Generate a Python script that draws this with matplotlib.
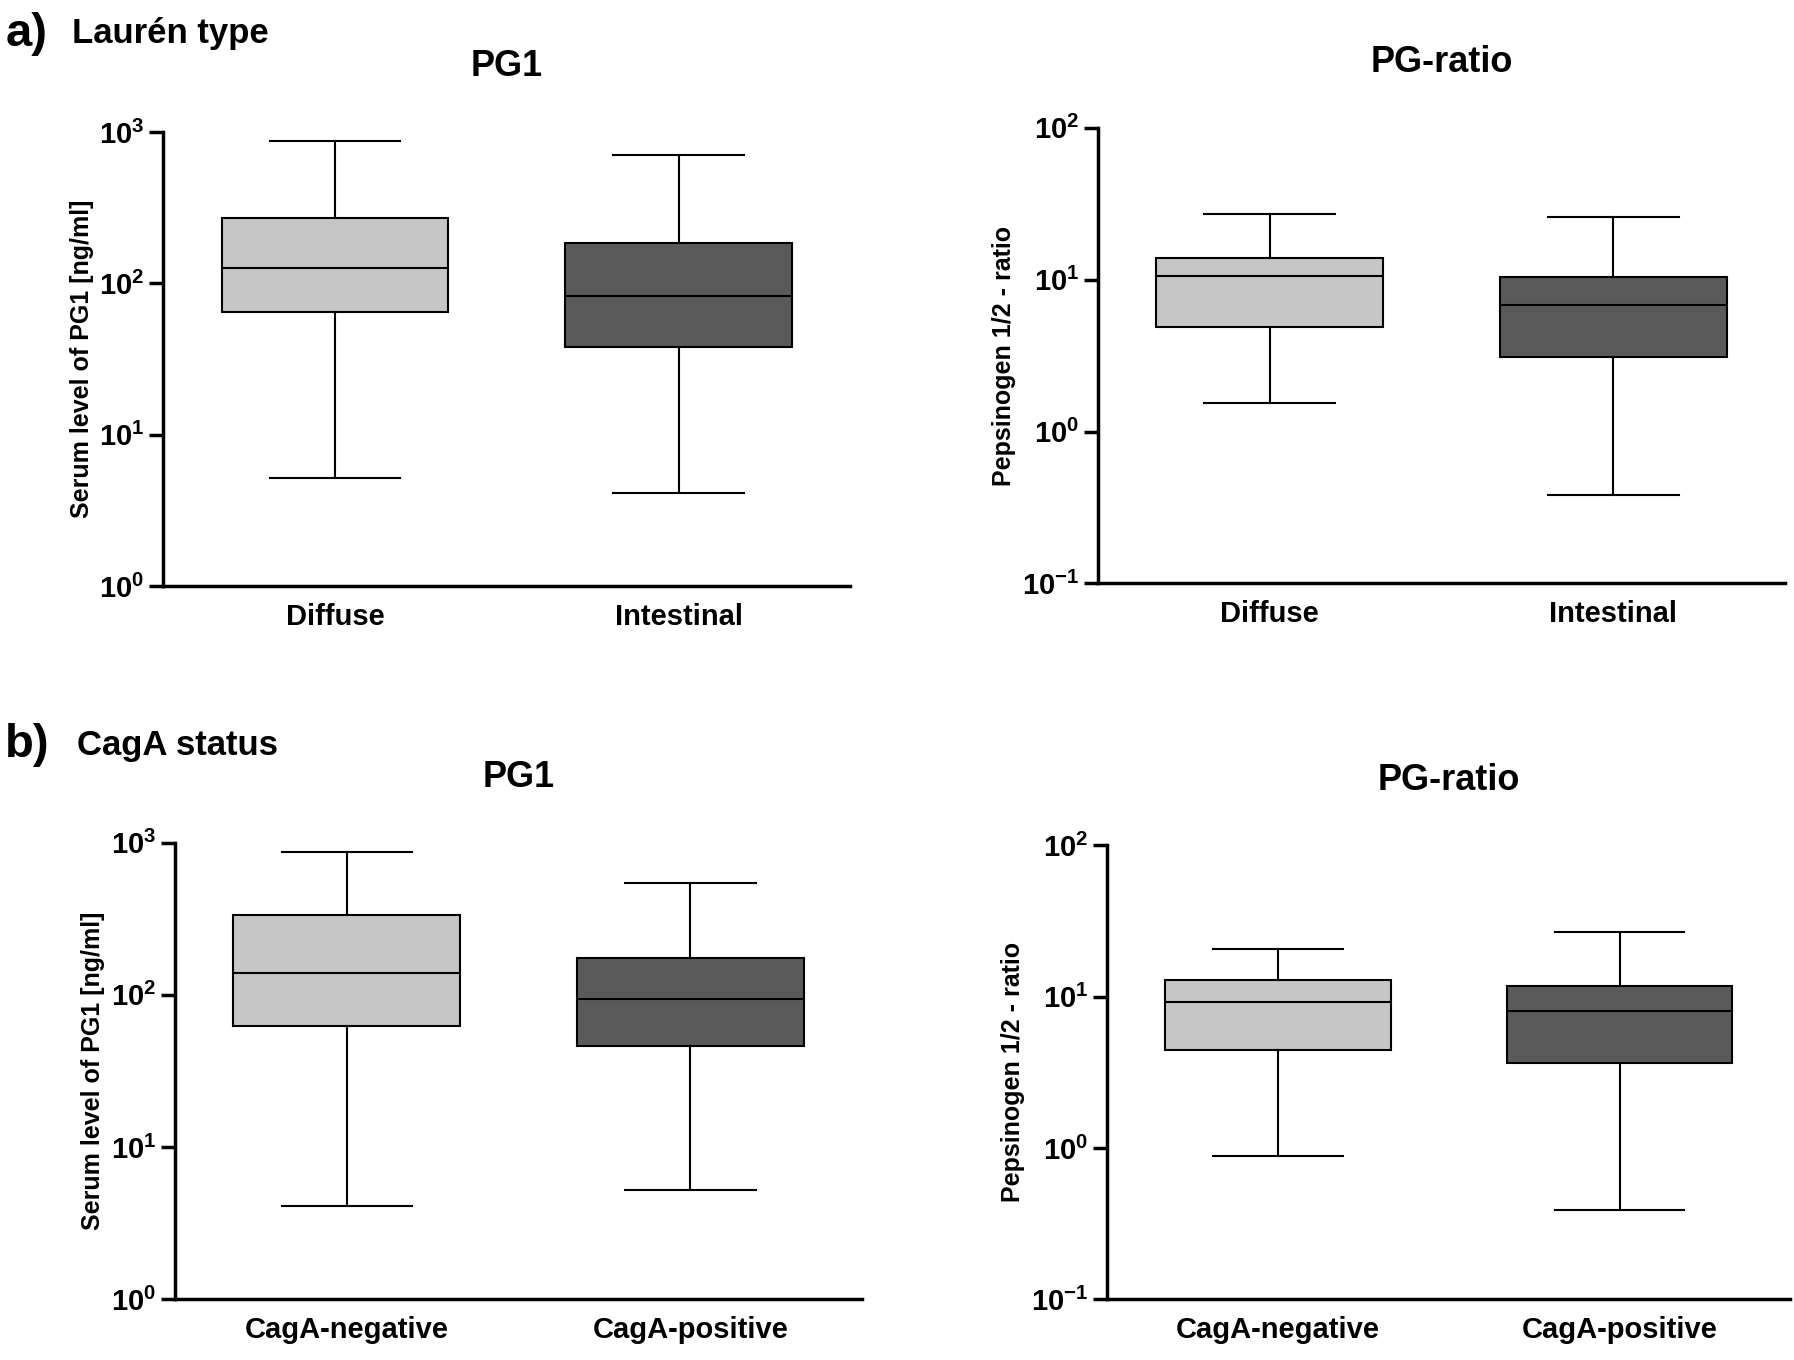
import matplotlib
matplotlib.use("Agg")
import matplotlib.pyplot as plt
from matplotlib.ticker import FixedLocator, NullLocator

plt.rcParams['font.family'] = ['Liberation Sans', 'DejaVu Sans']
plt.rcParams['mathtext.fontset'] = 'custom'
plt.rcParams['mathtext.rm'] = 'Liberation Sans:bold'
plt.rcParams['mathtext.it'] = 'Liberation Sans:bold'
plt.rcParams['mathtext.bf'] = 'Liberation Sans:bold'

# whislo, q1, median, q3, whishi
lauren_groups = ["Diffuse", "Intestinal"]
lauren_pg1 = [[5.2, 65, 126, 270, 870], [4.1, 38, 82, 185, 705]]
lauren_ratio = [[1.55, 4.9, 10.5, 13.9, 27], [0.385, 3.1, 6.8, 10.4, 26]]
caga_groups = ["CagA-negative", "CagA-positive"]
caga_pg1 = [[4.1, 62, 140, 336, 870], [5.2, 46, 94, 175, 540]]
caga_ratio = [[0.88, 4.45, 9.2, 12.8, 20.5], [0.39, 3.67, 8.0, 11.8, 26.7]]
colors = ["#c6c6c6", "#5a5a5a"]

fig = plt.figure(figsize=(17.94, 13.6), dpi=100)


def panel(rect, groups, data, title, ylabel, ylim, ticks):
    ax = fig.add_axes(rect)
    stats = []
    for g, d in zip(groups, data):
        stats.append(dict(label=g, whislo=d[0], q1=d[1], med=d[2], q3=d[3], whishi=d[4], fliers=[]))
    bp = ax.bxp(stats, positions=[1, 2], widths=0.66, patch_artist=True, showfliers=False,
                boxprops=dict(linewidth=1.5, edgecolor='black'),
                medianprops=dict(color='black', linewidth=1.5),
                whiskerprops=dict(linewidth=1.5), capprops=dict(linewidth=1.5))
    for patch, c in zip(bp['boxes'], colors):
        patch.set_facecolor(c)
    for cap in bp['caps']:
        x = cap.get_xdata()
        m = x.mean()
        cap.set_xdata([m - 0.19, m + 0.19])
    ax.set_yscale('log')
    ax.set_ylim(*ylim)
    ax.set_xlim(0.5, 2.5)
    ax.yaxis.set_major_locator(FixedLocator(ticks))
    ax.yaxis.set_minor_locator(NullLocator())
    ax.set_yticklabels([r'$\mathbf{10^{%d}}$' % round(__import__('math').log10(t)) for t in ticks])
    for s in ['top', 'right']:
        ax.spines[s].set_visible(False)
    for s in ['left', 'bottom']:
        ax.spines[s].set_linewidth(2.5)
    ax.tick_params(axis='both', width=2.5, length=10, labelsize=21)
    ax.tick_params(axis='x', length=0, pad=12)
    for lbl in ax.get_xticklabels():
        lbl.set_fontweight('bold')
    ax.set_title(title, fontsize=26, fontweight='bold', pad=40)
    ax.set_ylabel(ylabel, fontsize=18, fontweight='bold')
    return ax


panel([0.091, 0.569, 0.383, 0.334], lauren_groups, lauren_pg1, "PG1",
      "Serum level of PG1 [ng/ml]", (1, 1000), [1, 10, 100, 1000])
panel([0.612, 0.571, 0.383, 0.335], lauren_groups, lauren_ratio, "PG-ratio",
      "Pepsinogen 1/2 - ratio", (0.1, 100), [0.1, 1, 10, 100])
panel([0.0976, 0.0445, 0.383, 0.336], caga_groups, caga_pg1, "PG1",
      "Serum level of PG1 [ng/ml]", (1, 1000), [1, 10, 100, 1000])
panel([0.617, 0.0445, 0.381, 0.334], caga_groups, caga_ratio, "PG-ratio",
      "Pepsinogen 1/2 - ratio", (0.1, 100), [0.1, 1, 10, 100])

fig.text(0.003, 0.975, "a)", fontsize=34, fontweight='bold', va='center')
fig.text(0.040, 0.975, "Laurén type", fontsize=25, fontweight='bold', va='center')
fig.text(0.003, 0.452, "b)", fontsize=34, fontweight='bold', va='center')
fig.text(0.043, 0.452, "CagA status", fontsize=25, fontweight='bold', va='center')

fig.savefig("out.png", dpi=100)
